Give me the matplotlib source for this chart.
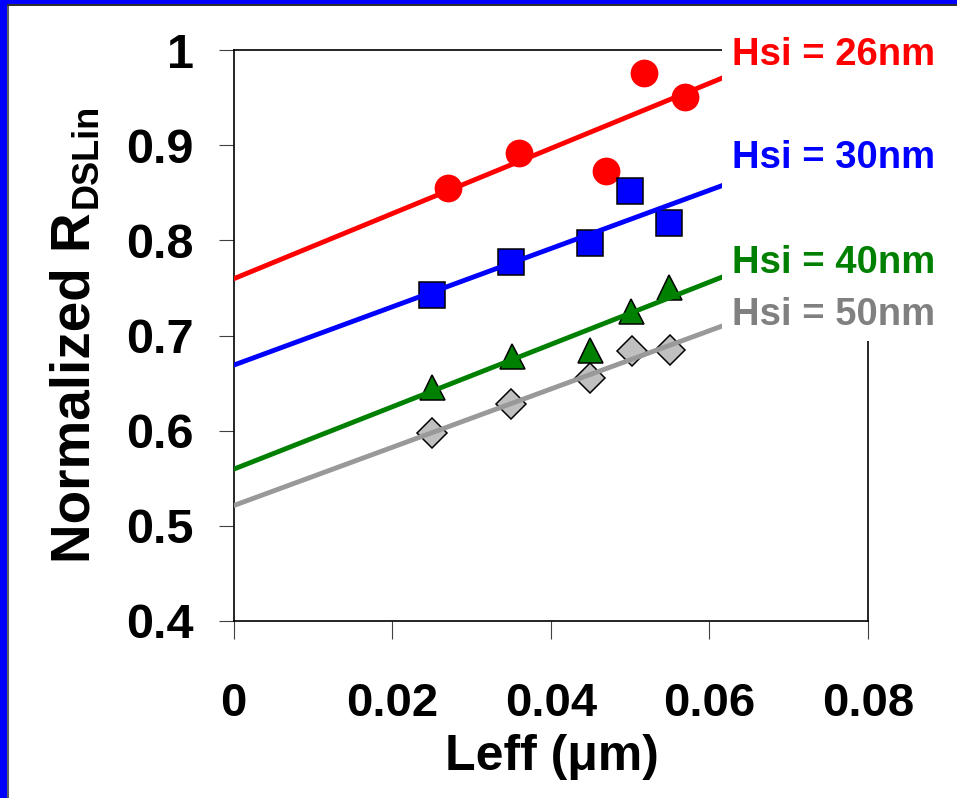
import matplotlib.pyplot as plt
import numpy as np
from matplotlib.patches import Rectangle

plt.rcParams['font.family'] = ['Liberation Sans', 'DejaVu Sans']
plt.rcParams['font.weight'] = 'bold'

W, H = 957, 798

# Leff (um) and normalized RDSlin
leff_26 = [0.0271, 0.036, 0.047, 0.0518, 0.0569]
rds_26 = [0.855, 0.892, 0.873, 0.976, 0.951]
leff_30 = [0.025, 0.035, 0.045, 0.050, 0.0549]
rds_30 = [0.743, 0.777, 0.797, 0.852, 0.818]
leff_40 = [0.025, 0.0351, 0.045, 0.0501, 0.0549]
rds_40 = [0.646, 0.678, 0.685, 0.726, 0.751]
leff_50 = [0.025, 0.035, 0.045, 0.0502, 0.055]
rds_50 = [0.598, 0.628, 0.655, 0.684, 0.685]

labels = ['Hsi = 26nm', 'Hsi = 30nm', 'Hsi = 40nm', 'Hsi = 50nm']
xticks = [0, 0.02, 0.04, 0.06, 0.08]
xtick_labels = ['0', '0.02', '0.04', '0.06', '0.08']
yticks = [0.4, 0.5, 0.6, 0.7, 0.8, 0.9, 1.0]
ytick_labels = ['0.4', '0.5', '0.6', '0.7', '0.8', '0.9', '1']

series = [
    (leff_26, rds_26, 'o', '#ff0000', '#ff0000', 20, 'none'),
    (leff_30, rds_30, 's', '#0000ff', '#0000ff', 18.5, 'black'),
    (leff_40, rds_40, '^', '#008000', '#008000', 18, 'black'),
    (leff_50, rds_50, 'D', '#999999', '#c0c0c0', 14.8, 'black'),
]
label_colors = ['#ff0000', '#0000ff', '#008000', '#808080']
label_baselines = [65, 168, 273, 325]

fig = plt.figure(figsize=(W / 100, H / 100), dpi=100)
ax = fig.add_axes([233.5 / W, 1 - 621 / H, 634.5 / W, 571 / H])

fit_x = np.array([0, 0.08])
for x, y, m, lc, fc, ms, ec in series:
    ax.plot(x, y, linestyle='none', marker=m, markersize=ms,
            markerfacecolor=fc, markeredgecolor=ec, markeredgewidth=1.1,
            zorder=3)
    # excel style linear trendline over the points
    k, b = np.polyfit(x, y, 1)
    ax.plot(fit_x, k * fit_x + b, color=lc, linewidth=3.5, zorder=4,
            solid_capstyle='butt')

ax.set_xlim(0, 0.08)
ax.set_ylim(0.4, 1.0)
ax.set_xticks(xticks, labels=xtick_labels)
ax.set_yticks(yticks, labels=ytick_labels)
ax.tick_params(axis='y', direction='out', length=10.8, width=0.8,
               color='#404040', pad=18, labelsize=35)
ax.tick_params(axis='x', direction='out', length=13, width=0.8,
               color='#404040', pad=31, labelsize=34)
for s in ax.spines.values():
    s.set_linewidth(1.2)

# white box behind the series labels
fig.patches.append(Rectangle((722 / W, 1 - 341 / H), 1, 330 / H,
                             transform=fig.transFigure, facecolor='white',
                             edgecolor='none', zorder=5))
for lab, c, yb in zip(labels, label_colors, label_baselines):
    fig.text(732 / W, 1 - yb / H, lab, color=c, fontsize=27.5,
             ha='left', va='baseline', zorder=6)

# axis titles
fig.text(90 / W, 1 - 563 / H, 'Normalized R', fontsize=39.5, rotation=90,
         rotation_mode='anchor', ha='left', va='baseline')
fig.text(97 / W, 1 - 208 / H, 'DSLin', fontsize=26, rotation=90,
         rotation_mode='anchor', ha='left', va='baseline')
fig.text(552 / W, 1 - 770 / H, 'Leff (\u03bcm)', fontsize=36,
         ha='center', va='baseline')

# slide frame
fig.patches.append(Rectangle((0, 0), 7 / W, 1, transform=fig.transFigure,
                             facecolor='#0000ff', edgecolor='none', zorder=7))
fig.patches.append(Rectangle((7 / W, 0), 1.5 / W, 1 - 4 / H,
                             transform=fig.transFigure, facecolor='#606060',
                             edgecolor='none', zorder=7))
fig.patches.append(Rectangle((0, 1 - 4 / H), 1, 4 / H, transform=fig.transFigure,
                             facecolor='#0000ff', edgecolor='none', zorder=7))
fig.patches.append(Rectangle((7 / W, 1 - 5.5 / H), 1, 1.5 / H,
                             transform=fig.transFigure, facecolor='#303030',
                             edgecolor='none', zorder=7))

fig.savefig('out.png', dpi=100)
